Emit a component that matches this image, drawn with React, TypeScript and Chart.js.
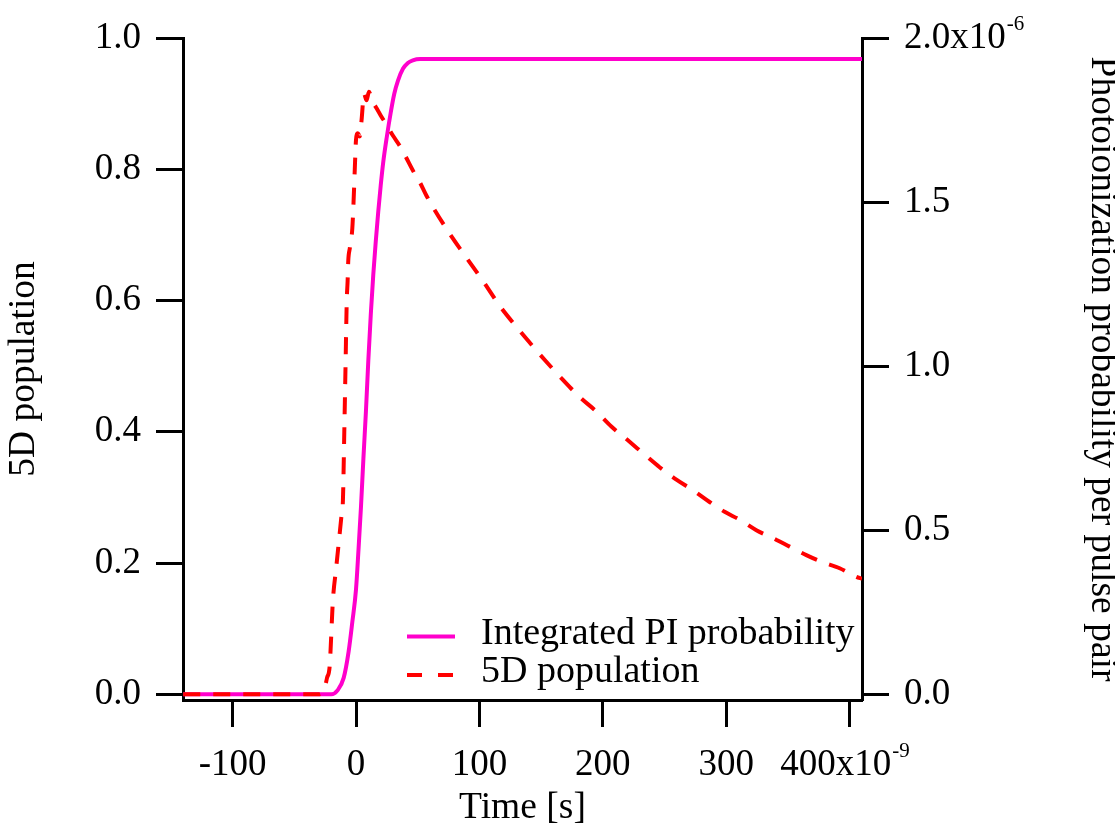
import React, { useEffect, useRef } from "react";
import { Chart, registerables } from "chart.js";

Chart.register(...registerables);

// ---- data (time in ns, i.e. units of 1e-9 s) ----
const popTime = [
  -140, -30, -27, -25.4, -23.5, -21.4, -18.7, -16, -11.9, -10.6, -9.5, -8.5, -7.5, -6.8, -6.3, -5, -3, -2, -1, 0,
  1.5, 3, 4.5, 6.5, 8.5, 10.5, 13, 16, 20, 25, 30, 35, 40, 47, 51.5, 57, 63.7, 77.2, 90.7, 104.2, 116.4, 129.9,
  143.4, 155.5, 167.7, 181.2, 194.7, 206.9, 220.3, 235.2, 246, 259.6, 273, 286.5, 298.7, 310.9, 324.4, 337.9,
  351.4, 364.9, 377, 391.9, 405.4, 410,
];
const popValue = [
  0, 0, 0.003, 0.009, 0.025, 0.042, 0.144, 0.194, 0.27, 0.296, 0.4, 0.5, 0.6, 0.63, 0.66, 0.68, 0.71, 0.75, 0.8, 0.845,
  0.855, 0.85, 0.875, 0.915, 0.905, 0.918, 0.905, 0.895, 0.882, 0.867, 0.851, 0.837, 0.82, 0.795, 0.781, 0.76, 0.738,
  0.698, 0.662, 0.626, 0.592, 0.56, 0.53, 0.504, 0.479, 0.453, 0.431, 0.408, 0.387, 0.363, 0.346, 0.327, 0.311, 0.293,
  0.278, 0.266, 0.25, 0.238, 0.225, 0.212, 0.202, 0.192, 0.179, 0.176,
];
const piTime = [
  -140, -20, -15, -10, -6, -3, 0, 2, 4, 6, 8, 10, 12, 14, 16, 18, 20, 22, 25, 28, 31, 34, 38, 42, 46, 52, 60, 410,
];
const piProb = [
  0, 0, 0.012e-6, 0.05e-6, 0.13e-6, 0.22e-6, 0.32e-6, 0.44e-6, 0.57e-6, 0.72e-6, 0.86e-6, 1.02e-6, 1.16e-6, 1.28e-6,
  1.38e-6, 1.47e-6, 1.55e-6, 1.62e-6, 1.7e-6, 1.77e-6, 1.83e-6, 1.87e-6, 1.906e-6, 1.924e-6, 1.932e-6, 1.936e-6,
  1.936e-6, 1.936e-6,
];

const seriesLabels = ["Integrated PI probability", "5D population"];

const xTicks = [-100, 0, 100, 200, 300, 400];
const xTickLabels = ["-100", "0", "100", "200", "300", "400x10"];
const xExponent = "-9";
const leftTicks = [0, 0.2, 0.4, 0.6, 0.8, 1.0];
const leftTickLabels = ["0.0", "0.2", "0.4", "0.6", "0.8", "1.0"];
const rightTicks = [0, 0.5e-6, 1.0e-6, 1.5e-6, 2.0e-6];
const rightTickLabels = ["0.0", "0.5", "1.0", "1.5", "2.0x10"];
const rightExponent = "-6";

const xTitle = "Time [s]";
const leftTitle = "5D population";
const rightTitle = "Photoionization probability per pulse pair";

// ---- styles ----
const FAMILY = "'Liberation Serif', 'Times New Roman', serif";
const TICK_SIZE = 37;
const TITLE_SIZE = 37.5;
const SUP_SIZE = 21;
const TICK_LEN = 27;
const TICK_PAD = 15;
const X_TICK_PAD = 20;
const X_TRAIL = "   ";
const MAGENTA = "rgb(255,0,204)";
const RED = "rgb(255,0,0)";

const tickLabelOf = (vals: number[], labels: string[], v: number, trailing = "") => {
  const i = vals.findIndex((t) => Math.abs(t - v) < Math.abs(vals[vals.length - 1]) * 1e-6 + 1e-15);
  if (i < 0) return "";
  return labels[i] + (i === vals.length - 1 ? trailing : "");
};

const supPlugin = {
  id: "superscripts",
  afterDraw(chart: any) {
    const ctx = chart.ctx;
    const xs = chart.scales.x;
    const yr = chart.scales.y2;
    ctx.save();
    ctx.fillStyle = "#000";
    ctx.font = `${TICK_SIZE}px ${FAMILY}`;
    const lastX = xTickLabels[xTickLabels.length - 1];
    const fullW = ctx.measureText(lastX + X_TRAIL).width;
    const baseW = ctx.measureText(lastX).width;
    const px = xs.getPixelForValue(xTicks[xTicks.length - 1]);
    const xMid = xs.top + TICK_LEN + X_TICK_PAD + TICK_SIZE / 2;
    const xStart = px - fullW / 2;
    const lastR = rightTickLabels[rightTickLabels.length - 1];
    const rW = ctx.measureText(lastR).width;
    const rStart = yr.left + TICK_LEN + TICK_PAD;
    const rMid = yr.getPixelForValue(rightTicks[rightTicks.length - 1]);
    ctx.font = `${SUP_SIZE}px ${FAMILY}`;
    ctx.textAlign = "left";
    ctx.textBaseline = "middle";
    ctx.fillText(xExponent, xStart + baseW + 1, xMid - 14);
    ctx.fillText(rightExponent, rStart + rW + 1, rMid - 14);
    ctx.restore();
  },
};

const legendPlugin = {
  id: "insideLegend",
  afterDraw(chart: any) {
    const ctx = chart.ctx;
    const ca = chart.chartArea;
    const rows = [
      { y: ca.bottom - 63.5, color: MAGENTA, dash: [] as number[], label: seriesLabels[0] },
      { y: ca.bottom - 25, color: RED, dash: [15, 16], label: seriesLabels[1] },
    ];
    ctx.save();
    rows.forEach((r) => {
      ctx.beginPath();
      ctx.setLineDash(r.dash);
      ctx.strokeStyle = r.color;
      ctx.lineWidth = 4;
      ctx.moveTo(ca.left + 224, r.y);
      ctx.lineTo(ca.left + 272, r.y);
      ctx.stroke();
      ctx.setLineDash([]);
      ctx.fillStyle = "#000";
      ctx.font = `38px ${FAMILY}`;
      ctx.textAlign = "left";
      ctx.textBaseline = "middle";
      ctx.fillText(r.label, ca.left + 298, r.y - 2.5);
    });
    ctx.restore();
  },
};

export default function App() {
  const ref = useRef<HTMLCanvasElement | null>(null);
  useEffect(() => {
    if (!ref.current) return;
    const tickFont = { family: FAMILY, size: TICK_SIZE, lineHeight: 1 };
    const axisGrid = {
      drawOnChartArea: false,
      drawTicks: true,
      tickLength: TICK_LEN,
      tickWidth: 3,
      tickColor: "#000",
    };
    const axisBorder = { display: true, width: 3, color: "#000" };
    const chart = new Chart(ref.current, {
      type: "line",
      data: {
        datasets: [
          {
            label: seriesLabels[0],
            data: piTime.map((t, i) => ({ x: t, y: piProb[i] })),
            yAxisID: "y2",
            borderColor: MAGENTA,
            borderWidth: 4,
            pointRadius: 0,
            cubicInterpolationMode: "monotone",
            fill: false,
            order: 1,
          },
          {
            label: seriesLabels[1],
            data: popTime.map((t, i) => ({ x: t, y: popValue[i] })),
            yAxisID: "y",
            borderColor: RED,
            borderWidth: 4,
            borderDash: [17, 13],
            pointRadius: 0,
            cubicInterpolationMode: "monotone",
            fill: false,
            order: 0,
          },
        ],
      },
      options: {
        animation: false,
        responsive: true,
        maintainAspectRatio: false,
        events: [],
        layout: { padding: { top: 38, left: 0, right: 0, bottom: 0 } },
        plugins: { legend: { display: false }, tooltip: { enabled: false } },
        scales: {
          x: {
            type: "linear",
            position: "bottom",
            min: -140.2,
            max: 410,
            afterBuildTicks: (s: any) => {
              s.ticks = xTicks.map((v) => ({ value: v }));
            },
            afterFit: (s: any) => {
              s.height = 127;
            },
            ticks: {
              font: tickFont,
              color: "#000",
              padding: X_TICK_PAD,
              maxRotation: 0,
              autoSkip: false,
              callback: (v: any) => tickLabelOf(xTicks, xTickLabels, Number(v), X_TRAIL),
            },
            grid: axisGrid,
            border: axisBorder,
            title: {
              display: true,
              text: xTitle,
              color: "#000",
              font: { family: FAMILY, size: TITLE_SIZE, lineHeight: 1 },
              padding: { top: 0, bottom: 0 },
            },
          },
          y: {
            type: "linear",
            position: "left",
            min: -0.0087,
            max: 1.0,
            afterBuildTicks: (s: any) => {
              s.ticks = leftTicks.map((v) => ({ value: v }));
            },
            afterFit: (s: any) => {
              s.width = 183;
            },
            ticks: {
              font: tickFont,
              color: "#000",
              padding: TICK_PAD,
              callback: (v: any) => tickLabelOf(leftTicks, leftTickLabels, Number(v)),
            },
            grid: axisGrid,
            border: axisBorder,
            title: {
              display: true,
              text: leftTitle,
              color: "#000",
              font: { family: FAMILY, size: TITLE_SIZE, lineHeight: 1 },
              padding: { top: 5.5, bottom: 0 },
            },
          },
          y2: {
            type: "linear",
            position: "right",
            min: -0.0174e-6,
            max: 2.0e-6,
            afterBuildTicks: (s: any) => {
              s.ticks = rightTicks.map((v) => ({ value: v }));
            },
            afterFit: (s: any) => {
              s.width = 253;
            },
            ticks: {
              font: tickFont,
              color: "#000",
              padding: TICK_PAD,
              callback: (v: any) => tickLabelOf(rightTicks, rightTickLabels, Number(v)),
            },
            grid: axisGrid,
            border: axisBorder,
            title: {
              display: true,
              text: rightTitle,
              color: "#000",
              font: { family: FAMILY, size: TITLE_SIZE, lineHeight: 0.7 },
              padding: { top: 0, bottom: 0 },
            },
          },
        },
      },
      plugins: [supPlugin, legendPlugin],
    } as any);
    return () => chart.destroy();
  }, []);

  return (
    <div style={{ position: "absolute", left: 0, top: 0, width: 1115, height: 827, background: "#fff" }}>
      <canvas ref={ref} />
    </div>
  );
}
